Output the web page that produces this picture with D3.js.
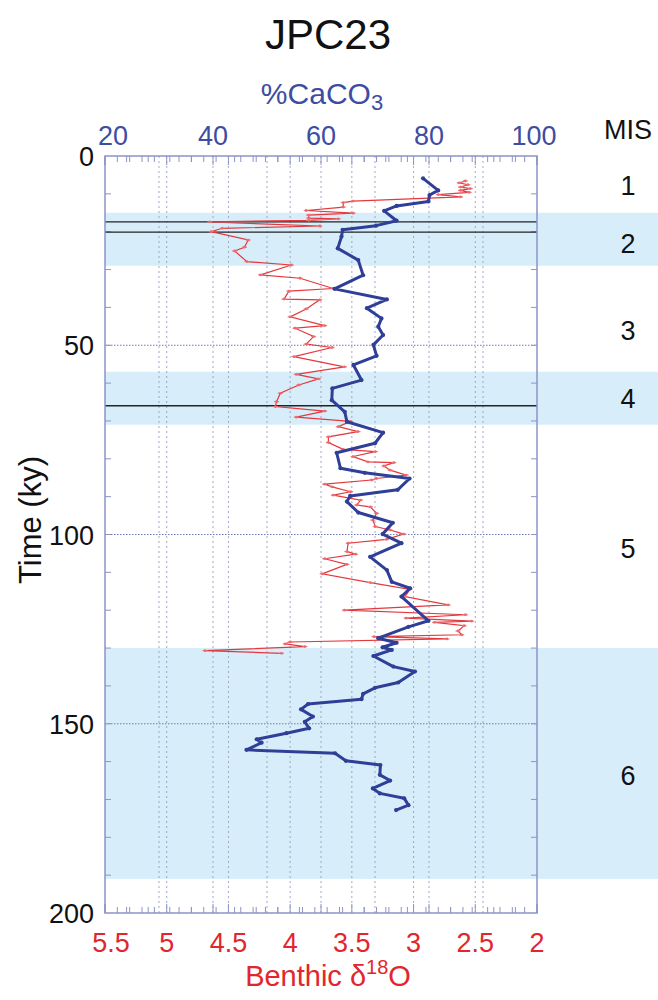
<!DOCTYPE html>
<html>
<head>
<meta charset="utf-8">
<script src="https://cdn.jsdelivr.net/npm/d3@7/dist/d3.min.js"></script>
<style>
  html, body { margin: 0; padding: 0; background: #fff; }
  svg text { font-family: "Liberation Sans", Arial, Helvetica, sans-serif; }
</style>
</head>
<body>
<svg id="chart" width="658" height="1000"></svg>
<script>
// Core JPC23: %CaCO3 and benthic d18O against age (ky)
const caco3Age = [5.9, 9.1, 10.3, 12.0, 13.2, 14.5, 17.1, 18.4, 19.5, 21.3, 24.4, 27.5, 31.5, 35.1, 37.9, 40.2, 42.9, 45.1, 47.3, 49.9, 52.8, 55.2, 59.2, 61.4, 64.5, 67.6, 70.2, 73.1, 75.9, 78.4, 82.5, 83.7, 85.2, 88.2, 89.8, 91.3, 94.2, 96.9, 99.9, 102.3, 105.9, 109.4, 112.5, 114.2, 116.4, 122.8, 124.4, 127.4, 128.6, 129.8, 130.5, 132.1, 134.9, 136.2, 139.1, 140.5, 142.1, 143.5, 144.8, 146.2, 148.1, 149.5, 151.2, 152.5, 154.1, 155.0, 156.9, 157.8, 159.8, 160.9, 163.5, 165.0, 167.1, 168.4, 169.7, 171.5, 172.8];
const caco3Pct = [78.9, 81.7, 80.1, 79.9, 74.0, 71.7, 74.0, 70.2, 64.0, 63.8, 63.1, 66.9, 67.8, 62.5, 72.2, 68.5, 71.2, 70.6, 71.5, 69.7, 70.3, 66.0, 67.5, 62.1, 62.0, 64.4, 64.8, 71.5, 70.0, 62.9, 63.6, 68.1, 76.4, 74.2, 65.4, 64.8, 66.9, 73.3, 71.4, 74.9, 69.1, 72.2, 73.1, 76.5, 74.9, 79.9, 76.2, 70.6, 74.0, 71.4, 73.1, 69.7, 73.4, 77.4, 74.3, 70.0, 67.8, 67.5, 57.6, 56.3, 58.5, 57.0, 57.8, 53.6, 48.1, 49.0, 46.2, 62.6, 64.6, 71.0, 70.9, 72.8, 69.6, 70.9, 75.4, 76.2, 73.9];

const d18oAge = [6.6, 7.1, 7.6, 8.2, 8.6, 9.1, 9.6, 10.2, 10.8, 11.9, 12.3, 13.5, 14.4, 15.1, 15.6, 16.4, 16.6, 17.0, 17.4, 18.5, 19.1, 20.0, 22.2, 24.1, 25.1, 27.9, 28.8, 31.4, 32.3, 35.0, 35.7, 37.8, 38.0, 40.4, 42.5, 44.8, 45.5, 47.7, 49.7, 50.6, 53.0, 55.7, 57.7, 58.9, 60.5, 62.7, 64.9, 66.2, 67.4, 69.0, 70.1, 71.5, 72.8, 74.2, 75.7, 77.5, 78.1, 79.4, 80.8, 81.0, 81.9, 83.0, 84.3, 85.2, 85.6, 86.7, 87.4, 88.7, 89.6, 90.9, 92.2, 92.7, 94.4, 96.2, 97.9, 98.8, 99.9, 101.3, 102.3, 104.5, 105.2, 106.4, 107.9, 110.4, 112.7, 114.5, 116.4, 118.6, 120.0, 121.2, 122.1, 122.9, 123.2, 124.1, 125.5, 126.5, 127.0, 127.6, 128.4, 128.9, 129.6, 130.7, 131.4];
const d18oVal = [2.58, 2.63, 2.56, 2.62, 2.54, 2.62, 2.55, 2.80, 2.62, 3.49, 3.57, 3.57, 3.87, 3.49, 3.85, 3.85, 3.61, 3.85, 4.65, 3.76, 4.55, 4.64, 4.34, 4.37, 4.45, 4.35, 3.99, 4.24, 3.92, 3.65, 4.01, 4.05, 3.76, 3.87, 4.00, 3.72, 3.96, 3.81, 3.87, 3.66, 3.97, 3.56, 3.95, 3.77, 3.93, 4.08, 4.11, 4.12, 3.72, 3.95, 3.51, 3.61, 3.45, 3.69, 3.69, 3.57, 3.31, 3.49, 3.37, 3.16, 3.24, 3.19, 3.06, 3.30, 3.34, 3.72, 3.66, 3.51, 3.65, 3.43, 3.46, 3.35, 3.30, 3.33, 3.31, 3.19, 3.08, 3.22, 3.53, 3.54, 3.47, 3.72, 3.54, 3.74, 3.35, 3.03, 3.07, 2.72, 3.56, 2.58, 3.06, 2.53, 2.83, 2.59, 2.64, 2.61, 3.32, 2.73, 4.00, 4.04, 3.88, 4.69, 4.07];

// Marine isotope stage bands (glacial stages shaded) and labels
const misBandStart = [15, 57, 130];
const misBandEnd = [29, 71, 191];
const misLabels = ["1", "2", "3", "4", "5", "6"];
const misLabelAge = [7.7, 23, 46, 64, 103.5, 163.5];

// Horizontal reference lines (ky)
const markerAges = [17.4, 20.1, 66];

// Tick labels
const ageTicks = [0, 50, 100, 150, 200];
const caco3Ticks = [20, 40, 60, 80, 100];
const d18oTicks = [5.5, 5, 4.5, 4, 3.5, 3, 2.5, 2];

(function draw() {
  const BLUE_TEXT = "#3d4d9f";
  const BLUE_LINE = "#2f3f97";
  const RED_TEXT = "#e1262d";
  const RED_LINE = "#e4383c";
  const FRAME = "#8c94c6";
  const GRID = "#8d93b8";
  const BAND = "#d7eefa";

  const svg = d3.select("#chart");
  const pL = 105, pR = 537, pT = 156, pB = 913;

  const y = d3.scaleLinear().domain([0, 200]).range([pT, pB]);
  const xC = d3.scaleLinear().domain([20, 100]).range([pL, pR]);
  const xD = d3.scaleLinear().domain([5.5, 2]).range([pL, pR]);

  // shaded stage bands, running out to the page edge
  svg.append("g").selectAll("rect").data(d3.range(misBandStart.length)).join("rect")
    .attr("x", pL).attr("width", 658 - pL)
    .attr("y", i => y(misBandStart[i]))
    .attr("height", i => y(misBandEnd[i]) - y(misBandStart[i]))
    .attr("fill", BAND);

  // vertical dotted grid: CaCO3 every 10 %, d18O every 0.5
  const grid = svg.append("g").attr("stroke", GRID).attr("stroke-width", 0.8).attr("stroke-dasharray", "2,3");
  grid.append("g").selectAll("line").data(d3.range(30, 100, 10)).join("line")
    .attr("x1", d => xC(d)).attr("x2", d => xC(d)).attr("y1", pT).attr("y2", pB);
  grid.append("g").selectAll("line").data([5, 4.5, 4, 3.5, 3, 2.5]).join("line")
    .attr("x1", d => xD(d)).attr("x2", d => xD(d)).attr("y1", pT).attr("y2", pB);
  // horizontal dotted grid
  svg.append("g").attr("stroke", "#6f78b8").attr("stroke-width", 1).attr("stroke-dasharray", "1.5,1.5")
    .selectAll("line").data([50, 100, 150]).join("line")
    .attr("x1", pL).attr("x2", pR).attr("y1", d => y(d)).attr("y2", d => y(d));

  // axis ticks on all four sides, pointing inward
  const tickG = svg.append("g").attr("stroke", FRAME).attr("stroke-width", 1);
  const d18oMinor = d3.range(20, 56).map(v => v / 10);
  const caco3Minor = d3.range(20, 101, 4);
  [pT, pB].forEach(edge => {
    const dir = edge === pT ? 1 : -1;
    tickG.append("g").selectAll("line").data(d18oMinor).join("line")
      .attr("x1", d => xD(d)).attr("x2", d => xD(d))
      .attr("y1", edge).attr("y2", d => edge + dir * (Math.abs(d * 2 - Math.round(d * 2)) < 1e-6 ? 9 : 6));
    tickG.append("g").selectAll("line").data(caco3Minor).join("line")
      .attr("x1", d => xC(d)).attr("x2", d => xC(d))
      .attr("y1", edge).attr("y2", d => edge + dir * (d % 20 === 0 ? 9 : 6));
  });
  [pL, pR].forEach(edge => {
    const dir = edge === pL ? 1 : -1;
    tickG.append("g").selectAll("line").data(d3.range(10, 200, 10)).join("line")
      .attr("x1", edge).attr("x2", edge + dir * 6)
      .attr("y1", d => y(d)).attr("y2", d => y(d));
  });

  // black reference lines
  svg.append("g").selectAll("line").data(markerAges).join("line")
    .attr("x1", pL).attr("x2", pR)
    .attr("y1", d => y(d)).attr("y2", d => y(d))
    .attr("stroke", "#222").attr("stroke-width", 1.4);

  // d18O curve (thin red with small markers)
  const dPts = d18oAge.map((a, i) => [xD(d18oVal[i]), y(a)]);
  svg.append("path").attr("d", d3.line()(dPts))
    .attr("fill", "none").attr("stroke", RED_LINE).attr("stroke-width", 1.2);
  svg.append("g").selectAll("path").data(dPts).join("path")
    .attr("d", p => `M${p[0] - 2.5},${p[1]}H${p[0] + 2.5}`)
    .attr("stroke", "#ee7a7c").attr("stroke-width", 1.2);
  svg.append("g").selectAll("circle").data(dPts).join("circle")
    .attr("cx", p => p[0]).attr("cy", p => p[1]).attr("r", 1.4)
    .attr("fill", "#ec6a6d");

  // %CaCO3 curve (thick blue with dots)
  const cPts = caco3Age.map((a, i) => [xC(caco3Pct[i]), y(a)]);
  svg.append("path").attr("d", d3.line()(cPts))
    .attr("fill", "none").attr("stroke", BLUE_LINE).attr("stroke-width", 3)
    .attr("stroke-linejoin", "round");
  svg.append("g").selectAll("circle").data(cPts).join("circle")
    .attr("cx", p => p[0]).attr("cy", p => p[1]).attr("r", 2.1)
    .attr("fill", BLUE_LINE);

  // frame
  svg.append("rect").attr("x", pL).attr("y", pT)
    .attr("width", pR - pL).attr("height", pB - pT)
    .attr("fill", "none").attr("stroke", FRAME).attr("stroke-width", 1.5);

  // left axis labels
  svg.append("g").selectAll("text").data(ageTicks).join("text")
    .attr("x", pL - 11).attr("y", d => y(d) + 10)
    .attr("text-anchor", "end").attr("font-size", 27).attr("fill", "#111")
    .text(d => d);

  // top axis labels (%CaCO3)
  svg.append("g").selectAll("text").data(caco3Ticks).join("text")
    .attr("x", d => xC(d) + (d === 20 ? 8 : d === 100 ? -3 : 0)).attr("y", 145)
    .attr("text-anchor", "middle").attr("font-size", 27).attr("fill", BLUE_TEXT)
    .text(d => d);

  // bottom axis labels (d18O)
  svg.append("g").selectAll("text").data(d18oTicks).join("text")
    .attr("x", d => xD(d) + (d === 5.5 ? 6 : 0)).attr("y", 952)
    .attr("text-anchor", "middle").attr("font-size", 27).attr("fill", RED_TEXT)
    .text(d => d);

  // axis titles
  const cTitle = svg.append("text").attr("x", 322).attr("y", 104)
    .attr("text-anchor", "middle").attr("font-size", 30).attr("fill", BLUE_TEXT);
  cTitle.append("tspan").text("%CaCO");
  cTitle.append("tspan").attr("font-size", 22).attr("dy", 6).text("3");

  const dTitle = svg.append("text").attr("x", 328).attr("y", 986)
    .attr("text-anchor", "middle").attr("font-size", 29).attr("fill", RED_TEXT);
  dTitle.append("tspan").text("Benthic \u03b4");
  dTitle.append("tspan").attr("font-size", 20).attr("dy", -12).text("18");
  dTitle.append("tspan").attr("dy", 12).text("O");

  svg.append("text").attr("transform", "translate(41,520) rotate(-90)")
    .attr("text-anchor", "middle").attr("font-size", 31).attr("fill", "#111")
    .text("Time (ky)");

  svg.append("text").attr("x", 328).attr("y", 49)
    .attr("text-anchor", "middle").attr("font-size", 42).attr("fill", "#111")
    .text("JPC23");

  // MIS column
  svg.append("text").attr("x", 628).attr("y", 139)
    .attr("text-anchor", "middle").attr("font-size", 27).attr("fill", "#111").text("MIS");
  svg.append("g").selectAll("text").data(misLabels).join("text")
    .attr("x", 628).attr("y", (d, i) => y(misLabelAge[i]) + 10)
    .attr("text-anchor", "middle").attr("font-size", 27).attr("fill", "#111")
    .text(d => d);
})();
</script>
</body>
</html>
